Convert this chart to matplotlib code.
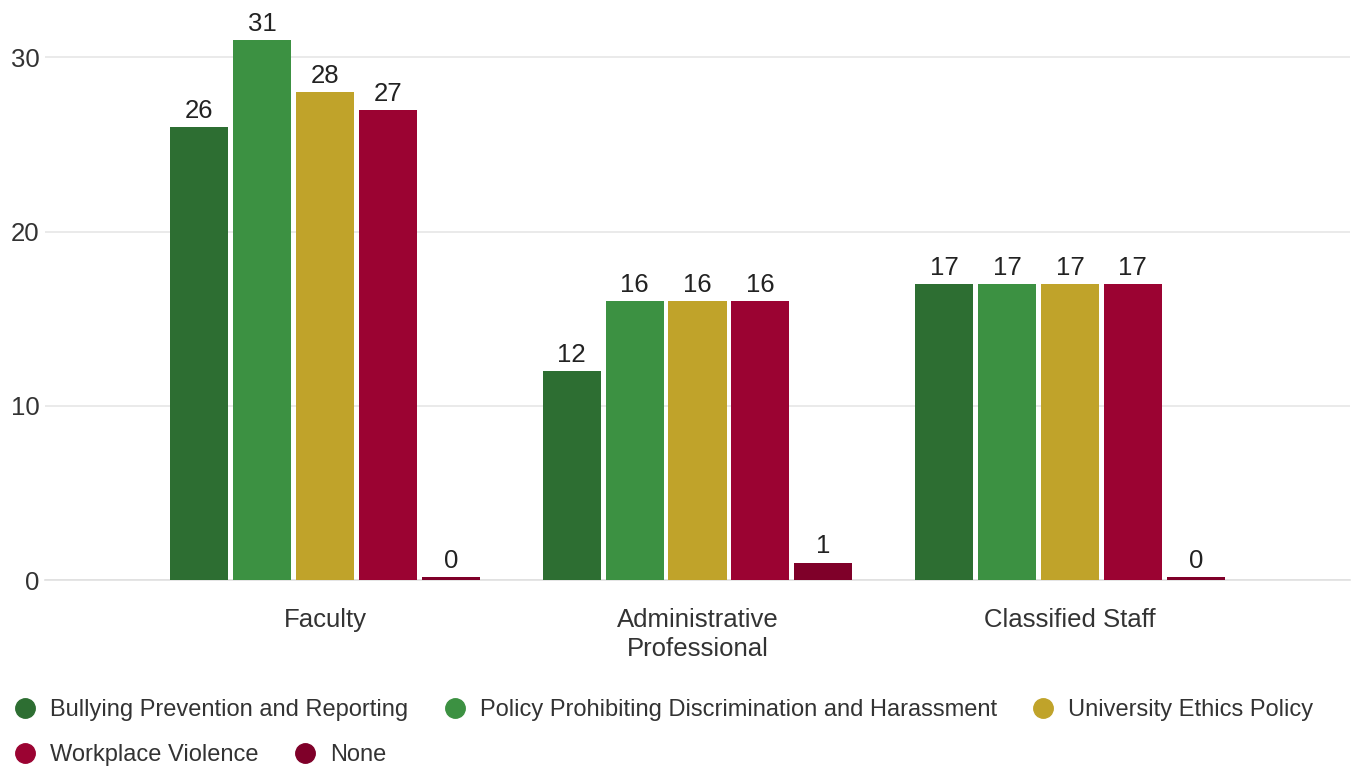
import numpy as np
import matplotlib
matplotlib.use("Agg")
import matplotlib.pyplot as plt
from matplotlib.lines import Line2D

plt.rcParams["font.family"] = ["Liberation Sans", "DejaVu Sans"]

groups = ["Faculty", "Administrative\nProfessional", "Classified Staff"]
series = [
    "Bullying Prevention and Reporting",
    "Policy Prohibiting Discrimination and Harassment",
    "University Ethics Policy",
    "Workplace Violence",
    "None",
]
bullying = [26, 12, 17]
discrimination = [31, 16, 17]
ethics = [28, 16, 17]
violence = [27, 16, 17]
none = [0, 1, 0]
values = [bullying, discrimination, ethics, violence, none]
colors = ["#2d6e32", "#3c9142", "#c0a32a", "#9b0332", "#7f0029"]

fig = plt.figure(figsize=(13.56, 7.70), dpi=100)
ax = fig.add_axes([45 / 1356, 190 / 770, 1305 / 1356, 580 / 770])

x = np.arange(len(groups))
step = 0.169
width = 0.156
for i, (vals, col) in enumerate(zip(values, colors)):
    pos = x + (i - 2) * step
    # zero values still get a thin sliver like the original
    heights = [max(v, 0.18) for v in vals]
    ax.bar(pos, heights, width=width, color=col, zorder=3)
    for p, v in zip(pos, vals):
        ax.annotate(str(v), (p, max(v, 0.18)), xytext=(0, 3), textcoords="offset points",
                    ha="center", va="bottom", fontsize=18.5, color="#222222")

ax.set_xlim(-0.752, 2.752)
ax.set_ylim(0, 33.3)
ax.set_yticks([0, 10, 20, 30])
ax.yaxis.grid(True, color="#e6e6e6", linewidth=1.2, zorder=0)
ax.set_xticks(x)
ax.set_xticklabels(groups, linespacing=1.25)
ax.tick_params(axis="both", length=0, labelsize=18.5, labelcolor="#333333")
ax.tick_params(axis="x", pad=20)
ax.tick_params(axis="y", pad=4)
for s in ["top", "right", "left"]:
    ax.spines[s].set_visible(False)
ax.spines["bottom"].set_color("#e0e0e0")
ax.spines["bottom"].set_linewidth(1.2)

handles = [Line2D([], [], marker="o", linestyle="none", markersize=14,
                  markerfacecolor=c, markeredgecolor=c) for c in colors]
leg_kw = dict(loc="center left", frameon=False, fontsize=17,
              handletextpad=0.56, columnspacing=1.45, handlelength=1.0,
              borderaxespad=0, labelcolor="#333333")
leg1 = fig.legend(handles[:3], series[:3], ncol=3,
                  bbox_to_anchor=(0.003, 1 - 710 / 770), **leg_kw)
leg2 = fig.legend(handles[3:], series[3:], ncol=2,
                  bbox_to_anchor=(0.003, 1 - 755 / 770), **leg_kw)

fig.savefig("out.png", dpi=100)
